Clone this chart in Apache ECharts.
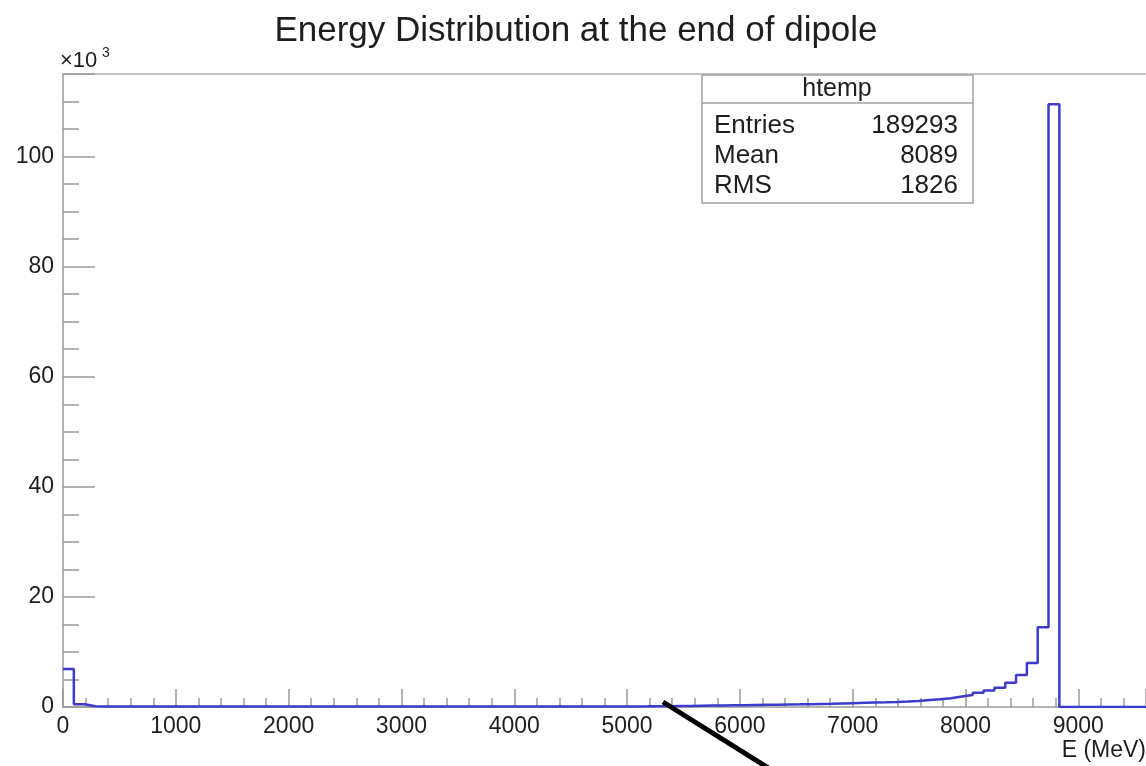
<!DOCTYPE html>
<html>
<head>
<meta charset="utf-8">
<title>Energy Distribution at the end of dipole</title>
<script src="https://cdn.jsdelivr.net/npm/echarts@6/dist/echarts.min.js"></script>
<style>
  html, body { margin: 0; padding: 0; background: #fff; }
  #chart { width: 1146px; height: 766px; }
</style>
</head>
<body>
<div id="chart"></div>
<script>
// histogram htemp: 100 bins, 0 - 9600 MeV
const binWidth = 96;
const xMin = 0;
const xMax = 9600;
const counts = [
  6900, 500, 150, 110, 100, 90, 90, 85, 80, 80,
  80, 78, 80, 76, 78, 80, 76, 78, 80, 78,
  78, 80, 76, 78, 80, 78, 80, 82, 80, 80,
  82, 80, 84, 82, 84, 86, 84, 86, 88, 88,
  90, 90, 92, 94, 94, 96, 98, 100, 100, 102,
  104, 106, 110, 114, 120, 130, 160, 190, 220, 250,
  280, 310, 340, 370, 400, 420, 450, 480, 520, 560,
  600, 650, 700, 750, 800, 850, 920, 1000, 1100, 1250,
  1400, 1600, 1900, 2200, 2600, 3000, 3500, 4400, 5800, 8000,
  14500, 109500, 0, 0, 0, 0, 0, 0, 0, 0
];
const xTicks = [0, 1000, 2000, 3000, 4000, 5000, 6000, 7000, 8000, 9000];
const yTicks = [0, 20, 40, 60, 80, 100]; // x10^3

const statsName = 'htemp';
const statsLabels = ['Entries', 'Mean', 'RMS'];
const statsValues = ['189293', '8089', '1826'];

const FONT = '"Liberation Sans", Arial, Helvetica, sans-serif';
const axisGray = '#9a9a9a';
const textColor = '#1e1e1e';

// step points at the left edge of each bin, closed at the right edge
const stepData = counts.map((c, i) => [xMin + i * binWidth, c]);
stepData.push([xMin + counts.length * binWidth, counts[counts.length - 1]]);

const chart = echarts.init(document.getElementById('chart'));

const statsGraphic = [
  { type: 'rect', shape: { x: 702, y: 75, width: 271, height: 128 },
    style: { fill: '#fff', stroke: '#a0a0a0', lineWidth: 1.5 }, z: 10 },
  { type: 'line', shape: { x1: 702, y1: 103, x2: 973, y2: 103 },
    style: { stroke: '#a0a0a0', lineWidth: 1.5 }, z: 10 },
  { type: 'text', x: 837, y: 89, z: 11,
    style: { text: statsName, font: '25px ' + FONT, fill: textColor, textAlign: 'center', textVerticalAlign: 'middle' } }
];
statsLabels.forEach((lab, i) => {
  statsGraphic.push({ type: 'text', x: 714, y: 126 + i * 30, z: 11,
    style: { text: lab, font: '26px ' + FONT, fill: textColor, textAlign: 'left', textVerticalAlign: 'middle' } });
  statsGraphic.push({ type: 'text', x: 958, y: 126 + i * 30, z: 11,
    style: { text: statsValues[i], font: '26px ' + FONT, fill: textColor, textAlign: 'right', textVerticalAlign: 'middle' } });
});

const option = {
  animation: false,
  backgroundColor: '#fff',
  title: {
    text: 'Energy Distribution at the end of dipole',
    left: 571,
    textAlign: 'center',
    top: 9,
    textStyle: { fontFamily: FONT, fontSize: 35, fontWeight: 'normal', color: textColor }
  },
  grid: {
    left: 63, right: 0, top: 74, bottom: 59
  },
  xAxis: {
    type: 'value',
    min: xMin,
    max: xMax,
    interval: 1000,
    axisLine: { onZero: false, lineStyle: { color: axisGray, width: 1.5 } },
    axisTick: { inside: true, length: 18, lineStyle: { color: axisGray, width: 1.5 } },
    minorTick: { show: true, splitNumber: 5, length: 9, lineStyle: { color: axisGray, width: 1.5 } },
    splitLine: { show: false },
    axisLabel: {
      color: textColor, fontFamily: FONT, fontSize: 23, margin: 8, showMaxLabel: false,
      formatter: (v) => xTicks.includes(v) ? String(v) : ''
    }
  },
  yAxis: {
    type: 'value',
    min: 0,
    max: 115000,
    interval: 20000,
    axisLine: { onZero: false, lineStyle: { color: axisGray, width: 1.5 } },
    axisTick: { inside: true, length: 32, lineStyle: { color: axisGray, width: 1.5 } },
    minorTick: { show: true, splitNumber: 4, length: 16, lineStyle: { color: axisGray, width: 1.5 } },
    splitLine: { show: false },
    axisLabel: {
      color: textColor, fontFamily: FONT, fontSize: 23, margin: 9, showMaxLabel: false,
      formatter: (v) => yTicks.includes(v / 1000) ? String(v / 1000) : ''
    }
  },
  series: [{
    type: 'line',
    step: 'end',
    data: stepData,
    showSymbol: false,
    symbol: 'none',
    clip: true,
    z: 5,
    lineStyle: { color: '#3b3bcc', width: 2.5 }
  }],
  graphic: [
    // top frame line
    { type: 'line', shape: { x1: 63, y1: 74, x2: 1146, y2: 74 },
      style: { stroke: '#b0b0b0', lineWidth: 1.5 } },
    { type: 'text', x: 60, y: 50,
      style: { text: '\u00d710', font: '22px ' + FONT, fill: textColor, textAlign: 'left', textVerticalAlign: 'top' } },
    { type: 'text', x: 102, y: 46,
      style: { text: '3', font: '14px ' + FONT, fill: textColor, textAlign: 'left', textVerticalAlign: 'top' } },
    { type: 'text', x: 1146, y: 739,
      style: { text: 'E (MeV)', font: '23px ' + FONT, fill: textColor, textAlign: 'right', textVerticalAlign: 'top' } },
    { type: 'line', shape: { x1: 663, y1: 702, x2: 778, y2: 774 },
      style: { stroke: '#000', lineWidth: 5 }, z: 20 }
  ].concat(statsGraphic)
};

chart.setOption(option);
</script>
</body>
</html>
